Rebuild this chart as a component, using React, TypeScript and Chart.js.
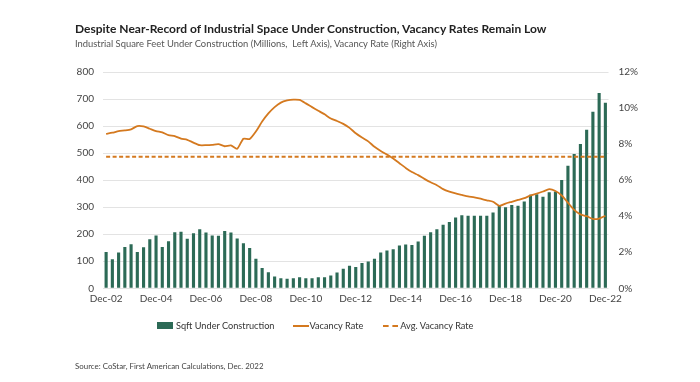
import React, { useEffect, useRef } from "react";
import { Chart, registerables } from "chart.js";

Chart.register(...registerables);

const MONTHS = ["Mar", "Jun", "Sep", "Dec"];
// Quarterly categories Dec-02 .. Dec-22
const categories: string[] = (() => {
  const out: string[] = ["Dec-02"];
  for (let y = 3; y <= 22; y++) {
    for (const m of MONTHS) out.push(`${m}-${String(y).padStart(2, "0")}`);
  }
  return out;
})();

const tickLabels = ["Dec-02", "Dec-04", "Dec-06", "Dec-08", "Dec-10", "Dec-12", "Dec-14", "Dec-16", "Dec-18", "Dec-20", "Dec-22"];

// Industrial square feet under construction (millions)
const sqftUnderConstruction = [
  134, 107, 132, 153, 163, 134, 152, 181, 195, 153,
  174, 207, 209, 183, 204, 218, 206, 195, 194, 212,
  206, 184, 167, 149, 109, 75, 59, 44, 37, 35,
  37, 41, 37, 37, 41, 41, 47, 58, 72, 83,
  79, 94, 99, 109, 132, 140, 144, 158, 162, 160,
  173, 194, 207, 218, 235, 245, 262, 270, 268, 268,
  268, 268, 280, 305, 300, 308, 305, 321, 346, 348,
  339, 355, 358, 401, 453, 497, 534, 586, 653, 722,
  686,
];

// Vacancy rate (%)
const vacancyRate = [
  8.57, 8.63, 8.72, 8.76, 8.82, 9.0, 8.98, 8.85, 8.72, 8.65,
  8.5, 8.44, 8.3, 8.24, 8.08, 7.94, 7.94, 7.96, 8.0, 7.88,
  7.93, 7.74, 8.3, 8.28, 8.7, 9.25, 9.7, 10.05, 10.3, 10.42,
  10.47, 10.45, 10.26, 10.05, 9.85, 9.65, 9.42, 9.28, 9.12, 8.9,
  8.6, 8.36, 8.15, 7.85, 7.62, 7.42, 7.2, 6.94, 6.68, 6.45,
  6.28, 6.07, 5.88, 5.72, 5.5, 5.36, 5.26, 5.18, 5.1, 5.05,
  4.97, 4.88, 4.8, 4.57, 4.7, 4.8, 4.9, 5.0, 5.15, 5.25,
  5.37, 5.5, 5.4, 5.15, 4.75, 4.35, 4.1, 4.0, 3.85, 3.87,
  4.02,
];

const avgVacancyRate = 7.3;

const leftTicks = [0, 100, 200, 300, 400, 500, 600, 700, 800];
const rightTicks = [0, 2, 4, 6, 8, 10, 12];

const GREEN = "#2C6A56";
const ORANGE = "#D4791F";
const FONT = "Lato, 'Open Sans', sans-serif";

export default function App() {
  const ref = useRef<HTMLCanvasElement | null>(null);

  useEffect(() => {
    if (!ref.current) return;
    const chart = new Chart(ref.current, {
      type: "bar",
      data: {
        labels: categories,
        datasets: [
          {
            type: "line",
            label: "Vacancy Rate",
            data: vacancyRate,
            yAxisID: "y1",
            borderColor: ORANGE,
            borderWidth: 1.8,
            pointRadius: 0,
            tension: 0.2,
            order: 0,
          } as any,
          {
            type: "line",
            label: "Avg. Vacancy Rate",
            data: categories.map(() => avgVacancyRate),
            yAxisID: "y1",
            borderColor: ORANGE,
            borderWidth: 2,
            borderDash: [4, 2.5],
            pointRadius: 0,
            order: 1,
          } as any,
          {
            type: "bar",
            label: "Sqft Under Construction",
            data: sqftUnderConstruction,
            yAxisID: "y",
            backgroundColor: GREEN,
            categoryPercentage: 1,
            barPercentage: 0.5,
            order: 2,
          },
        ],
      },
      options: {
        animation: false,
        responsive: false,
        maintainAspectRatio: false,
        layout: { padding: { left: 63, right: 51.5, top: 72, bottom: 73.7 } },
        plugins: { legend: { display: false }, tooltip: { enabled: false } },
        scales: {
          x: {
            offset: true,
            grid: { display: false, drawTicks: false },
            border: { display: false },
            ticks: {
              autoSkip: false,
              maxRotation: 0,
              padding: 4,
              color: "#444",
              font: { family: FONT, size: 10 },
              callback: (_v: any, i: number) => (i % 8 === 0 ? tickLabels[i / 8] : ""),
            },
            afterFit: (s: any) => {
              s.height = 20;
            },
          },
          y: {
            position: "left",
            min: leftTicks[0],
            max: leftTicks[leftTicks.length - 1],
            grid: { color: "#e3e3e3", lineWidth: 1, drawTicks: false },
            border: { display: false },
            afterBuildTicks: (s: any) => {
              s.ticks = leftTicks.map((v) => ({ value: v }));
            },
            ticks: {
              padding: 9,
              color: "#444",
              font: { family: FONT, size: 10 },
            },
            afterFit: (s: any) => {
              s.width = 40;
            },
          },
          y1: {
            position: "right",
            min: rightTicks[0],
            max: rightTicks[rightTicks.length - 1],
            grid: { display: false, drawTicks: false },
            border: { display: false },
            afterBuildTicks: (s: any) => {
              s.ticks = rightTicks.map((v) => ({ value: v }));
            },
            ticks: {
              padding: 10,
              color: "#444",
              font: { family: FONT, size: 10 },
              callback: (v: any) => `${v}%`,
            },
            afterFit: (s: any) => {
              s.width = 40;
            },
          },
        },
      },
    });
    return () => chart.destroy();
  }, []);

  const textBase: React.CSSProperties = { position: "absolute", fontFamily: FONT, whiteSpace: "nowrap" };

  return (
    <div style={{ position: "relative", width: 700, height: 382, background: "#fff", overflow: "hidden" }}>
      <style>{`body{margin:0}`}</style>
      <canvas ref={ref} width={700} height={382} style={{ position: "absolute", left: 0, top: 0, width: 700, height: 382 }} />
      <div style={{ ...textBase, left: 75, top: 21, fontSize: 12, fontWeight: 700, color: "#222" }}>
        Despite Near-Record of Industrial Space Under Construction, Vacancy Rates Remain Low
      </div>
      <div style={{ ...textBase, left: 75, top: 38, fontSize: 9.4, color: "#555" }}>
        Industrial Square Feet Under Construction (Millions,&nbsp; Left Axis), Vacancy Rate (Right Axis)
      </div>
      <div style={{ ...textBase, left: 157, top: 320, fontSize: 9.2, color: "#333", display: "flex", alignItems: "center" }}>
        <span style={{ display: "inline-block", width: 16, height: 7, background: GREEN, marginRight: 3 }} />
        <span>Sqft Under Construction</span>
        <span style={{ display: "inline-block", width: 16, borderTop: `2px solid ${ORANGE}`, marginLeft: 18, marginRight: 1 }} />
        <span>Vacancy Rate</span>
        <span style={{ display: "inline-block", width: 15, borderTop: `2px dashed ${ORANGE}`, marginLeft: 20, marginRight: 2 }} />
        <span>Avg. Vacancy Rate</span>
      </div>
      <div style={{ ...textBase, left: 75, top: 361, fontSize: 7.9, color: "#444" }}>
        Source: CoStar, First American Calculations, Dec. 2022
      </div>
    </div>
  );
}
